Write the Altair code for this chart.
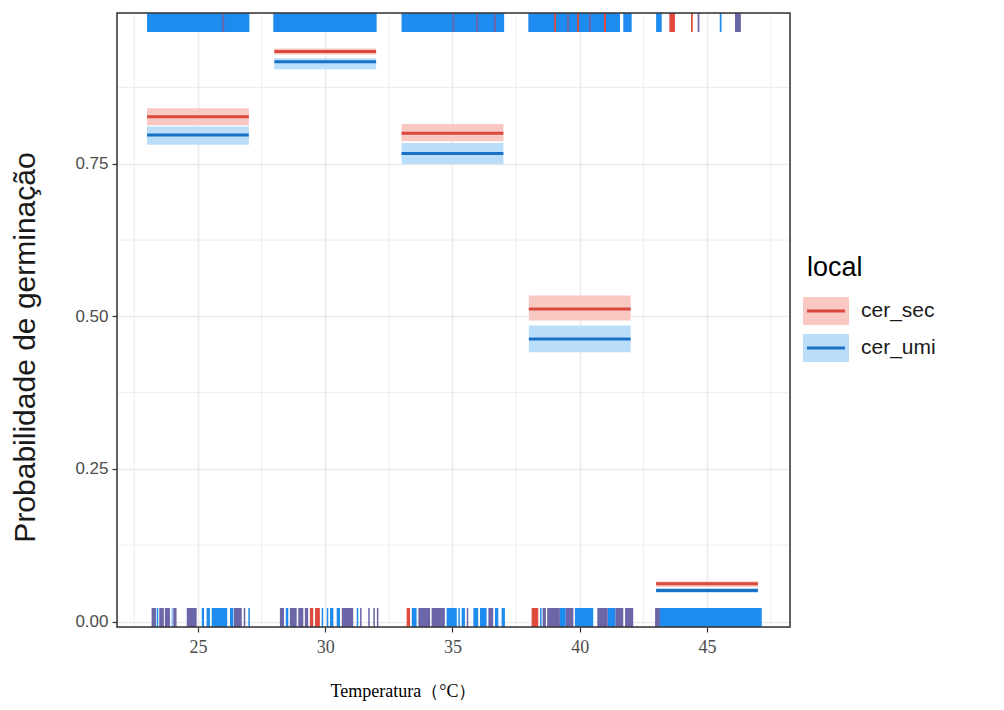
import altair as alt
import pandas as pd

# ---------------- data ----------------
temperaturas = [25, 30, 35, 40, 45]
locais = ["cer_sec", "cer_umi"]
prob_sec = [0.827, 0.934, 0.800, 0.512, 0.062]
inf_sec = [0.813, 0.929, 0.787, 0.493, 0.057]
sup_sec = [0.841, 0.939, 0.815, 0.534, 0.066]
prob_umi = [0.797, 0.917, 0.767, 0.463, 0.051]
inf_umi = [0.781, 0.905, 0.749, 0.441, 0.047]
sup_umi = [0.811, 0.923, 0.784, 0.485, 0.055]
meia_largura = 2.0  # jitter half-width of each temperature group (°C)

x_ticks = [25, 30, 35, 40, 45]
x_minor = [22.5, 27.5, 32.5, 37.5, 42.5, 47.5]
y_ticks = [0.0, 0.25, 0.5, 0.75]
y_minor = [0.125, 0.375, 0.625, 0.875]

# rug spans (°C) of observations germinated (top) / not germinated (bottom)
rug_top_umi = [[23.0, 27.02], [27.96, 32.02], [33.0, 37.03], [37.98, 41.58],
               [41.71, 42.04], [43.0, 43.22], [45.50, 45.57]]
rug_top_sec = [[39.0, 39.07], [39.9, 39.97], [40.95, 41.03], [43.52, 43.74],
               [44.37, 44.44]]
rug_top_both = [[25.95, 26.03], [35.0, 35.07], [35.93, 36.01], [36.63, 36.71],
                [39.5, 39.58], [40.36, 40.44], [44.63, 44.70], [46.1, 46.33]]

rug_bot_umi = [[23.38, 23.44], [23.97, 24.0], [25.15, 25.24], [25.34, 25.47],
               [25.54, 26.15], [26.26, 26.39], [26.98, 27.04],
               [28.45, 28.55], [29.86, 29.92], [30.06, 30.12], [30.19, 30.32],
               [30.45, 30.58], [31.24, 31.30],
               [33.40, 33.59], [34.77, 35.17], [35.23, 35.29], [35.36, 35.49],
               [35.82, 36.01], [36.08, 36.34], [36.67, 36.80], [36.93, 37.06],
               [38.44, 38.50], [39.22, 39.45], [39.81, 40.53], [41.10, 41.40],
               [43.15, 47.15]]
rug_bot_sec = [[29.40, 29.53], [29.60, 29.79], [33.20, 33.33], [38.11, 38.37]]
rug_bot_both = [[23.18, 23.35], [23.48, 23.66], [23.70, 23.90], [24.03, 24.16],
                [24.56, 24.95], [26.41, 26.72], [26.80, 26.86],
                [28.22, 28.38], [28.61, 28.88], [28.94, 29.14], [29.20, 29.33],
                [30.65, 31.10], [31.37, 31.43], [31.69, 31.75], [31.89, 31.95],
                [32.03, 32.09],
                [33.66, 34.12], [34.18, 34.70], [35.56, 35.62], [36.41, 36.60],
                [38.54, 38.67], [38.72, 39.22], [39.45, 39.75], [40.69, 41.10],
                [41.40, 41.71], [41.78, 42.10], [42.96, 43.15]]

# ---------------- style ----------------
c_line = {"cer_sec": "#D9493D", "cer_umi": "#1A72C8"}
c_band = {"cer_sec": "#F9C8C2", "cer_umi": "#BADDF9"}
c_rug = {"umi": "#1E8BEF", "sec": "#E04A3C", "both": "#6A66A8"}
grid_c = "#EBEBEB"
W, H = 673, 614
rug_len = 19

# ---------------- tables ----------------
rows = []
for loc, pr, lo, hi in (("cer_sec", prob_sec, inf_sec, sup_sec),
                        ("cer_umi", prob_umi, inf_umi, sup_umi)):
    for t, p, a, b in zip(temperaturas, pr, lo, hi):
        rows.append({"local": loc, "t0": t - meia_largura, "t1": t + meia_largura,
                     "prob": p, "inf": a, "sup": b})
fits = pd.DataFrame(rows)

def spans(lst, kind):
    return [{"x0": a, "x1": b, "kind": kind} for a, b in lst]

rug_top = pd.DataFrame(spans(rug_top_umi, "umi") + spans(rug_top_sec, "sec") + spans(rug_top_both, "both"))
rug_bot = pd.DataFrame(spans(rug_bot_umi, "umi") + spans(rug_bot_sec, "sec") + spans(rug_bot_both, "both"))

xs = alt.Scale(domain=[21.82, 48.26], nice=False, zero=False)
ys = alt.Scale(domain=[-0.009, 0.997], nice=False, zero=False)

ax_x = alt.Axis(values=x_ticks, grid=True, gridColor=grid_c, gridWidth=1.6,
                domain=False, tickColor="#333333", tickSize=5, tickWidth=1.2,
                labelFont="Liberation Serif", labelFontSize=18, labelColor="#4D4D4D",
                labelPadding=6, title="Temperatura（°C）", titleFont="Liberation Serif",
                titleFontSize=18, titleFontWeight="normal", titleColor="#000000",
                titlePadding=26, titleX=286)
ax_y = alt.Axis(values=y_ticks, grid=True, gridColor=grid_c, gridWidth=1.6,
                domain=False, tickColor="#333333", tickSize=5, tickWidth=1.2,
                labelFont="Liberation Sans", labelFontSize=17, labelColor="#4D4D4D",
                labelPadding=4, format=".2f", title="Probabilidade de germinação",
                titleFont="Liberation Sans", titleFontSize=30, titleFontWeight="normal",
                titleColor="#1A1A1A", titlePadding=34, titleY=334)

minor_x = alt.Chart(pd.DataFrame({"t0": x_minor})).mark_rule(
    color=grid_c, strokeWidth=0.9).encode(x=alt.X("t0:Q", scale=xs, axis=ax_x))
minor_y = alt.Chart(pd.DataFrame({"prob": y_minor})).mark_rule(
    color=grid_c, strokeWidth=0.9).encode(y=alt.Y("prob:Q", scale=ys, axis=ax_y))

bands = alt.Chart(fits).mark_rect().encode(
    x=alt.X("t0:Q", scale=xs, axis=ax_x), x2="t1:Q",
    y=alt.Y("inf:Q", scale=ys, axis=ax_y), y2="sup:Q",
    fill=alt.Fill("local:N", scale=alt.Scale(domain=locais, range=[c_band[l] for l in locais]), legend=None),
)
lines = alt.Chart(fits).mark_rule(strokeWidth=3).encode(
    x=alt.X("t0:Q", scale=xs, axis=ax_x), x2="t1:Q",
    y=alt.Y("prob:Q", scale=ys, axis=ax_y),
    stroke=alt.Stroke("local:N", scale=alt.Scale(domain=locais, range=[c_line[l] for l in locais]), legend=None),
)
rug_scale = alt.Scale(domain=["umi", "sec", "both"], range=[c_rug["umi"], c_rug["sec"], c_rug["both"]])
rugT = alt.Chart(rug_top).mark_rect().encode(
    x=alt.X("x0:Q", scale=xs, axis=ax_x), x2="x1:Q",
    y=alt.value(0), y2=alt.value(rug_len),
    color=alt.Color("kind:N", scale=rug_scale, legend=None),
)
rugB = alt.Chart(rug_bot).mark_rect().encode(
    x=alt.X("x0:Q", scale=xs, axis=ax_x), x2="x1:Q",
    y=alt.value(H - rug_len), y2=alt.value(H),
    color=alt.Color("kind:N", scale=rug_scale, legend=None),
)
border = alt.Chart(pd.DataFrame({"b": [0]})).mark_rect(
    fill="transparent", stroke="#333333", strokeWidth=1.5
).encode(x=alt.value(0), x2=alt.value(W), y=alt.value(0), y2=alt.value(H))

# ---------------- custom legend ----------------
leg_x, leg_y0, key_w, key_h, gap = 686, 284, 46, 28, 37
legend_layers = [
    alt.Chart(pd.DataFrame({"t": ["local"]})).mark_text(
        align="left", baseline="middle", font="Liberation Sans", fontSize=27, color="#000000"
    ).encode(x=alt.value(leg_x + 4), y=alt.value(leg_y0 - 29), text="t:N")
]
for i, loc in enumerate(locais):
    d = pd.DataFrame({"local": [loc]})
    yy = leg_y0 + i * gap
    legend_layers.append(alt.Chart(d).mark_rect(color=c_band[loc]).encode(
        x=alt.value(leg_x), x2=alt.value(leg_x + key_w), y=alt.value(yy), y2=alt.value(yy + key_h)))
    legend_layers.append(alt.Chart(d).mark_rule(color=c_line[loc], strokeWidth=3).encode(
        x=alt.value(leg_x + 4), x2=alt.value(leg_x + key_w - 4), y=alt.value(yy + key_h / 2)))
    legend_layers.append(alt.Chart(d).mark_text(
        align="left", baseline="middle", font="Liberation Sans", fontSize=21, color="#1A1A1A"
    ).encode(x=alt.value(leg_x + key_w + 12), y=alt.value(yy + key_h / 2), text="local:N"))

chart = alt.layer(minor_x, minor_y, bands, lines, rugT, rugB, border, *legend_layers).resolve_scale(
    fill="independent", stroke="independent", color="independent"
).properties(
    width=W, height=H,
    padding={"left": 109, "top": 5, "right": 196, "bottom": 82},
    autosize="none",
).configure_view(stroke="#333333", strokeWidth=1.2).configure(background="white")

chart.save("out.html", embed_options={"renderer": "svg", "actions": False})
